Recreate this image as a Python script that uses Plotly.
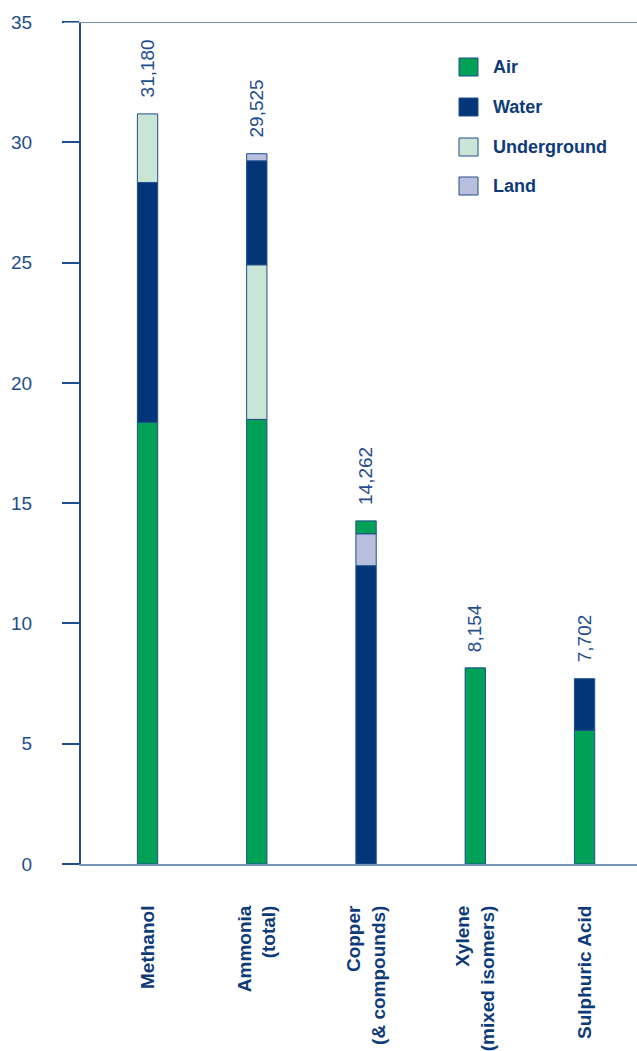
import plotly.graph_objects as go

# ---------------- data (thousand tonnes) ----------------
categories = ["Methanol", "Ammonia<br>(total)", "Copper<br>(& compounds)",
              "Xylene<br>(mixed isomers)", "Sulphuric Acid"]
air = [18.36, 18.48, 0.542, 8.154, 5.56]
water = [9.97, 4.33, 12.40, 0.0, 2.142]
underground = [2.85, 6.42, 0.0, 0.0, 0.0]
land = [0.0, 0.295, 1.32, 0.0, 0.0]
totals = [31180, 29525, 14262, 8154, 7702]
# stacking order of the segments inside each bar (bottom -> top)
stack_order = [
    ["Air", "Water", "Underground", "Land"],
    ["Air", "Underground", "Water", "Land"],
    ["Water", "Land", "Air", "Underground"],
    ["Air", "Water", "Underground", "Land"],
    ["Air", "Water", "Underground", "Land"],
]
y_ticks = [0, 5, 10, 15, 20, 25, 30, 35]

series = {"Air": air, "Water": water, "Underground": underground, "Land": land}
colors = {"Air": "#00a056", "Water": "#033679",
          "Underground": "#c9e5d6", "Land": "#b8bfdc"}

# compute bases from stacking order
bases = {k: [0.0] * len(categories) for k in series}
for i, order in enumerate(stack_order):
    acc = 0.0
    for name in order:
        bases[name][i] = acc
        acc += series[name][i]

DARK = "#0d3b7a"
MID = "#1f4e8c"
LIGHTLINE = "#7893b8"
FONT = "Liberation Sans, Arial, sans-serif"

fig = go.Figure()
for name in ["Air", "Water", "Underground", "Land"]:
    vals = [v if v > 0 else None for v in series[name]]
    fig.add_trace(go.Bar(
        x=list(range(len(categories))), y=vals, base=bases[name],
        name=name, width=0.186,
        marker=dict(color=colors[name], line=dict(color=MID, width=1)),
        showlegend=False,
    ))

# total labels
for i, t in enumerate(totals):
    fig.add_annotation(x=i, y=t / 1000.0, text=f"{t:,}", showarrow=False,
                       textangle=-90, yanchor="bottom", xanchor="center",
                       yshift=14, font=dict(family=FONT, size=19, color=MID))

W, H = 637, 1051
L, R, T, B = 81, 0, 22, 187
PW, PH = W - L - R, H - T - B


def px(xp):
    return (xp - L) / PW


def py(yp):
    return (H - B - yp) / PH


# manual legend
legend_items = ["Air", "Water", "Underground", "Land"]
legend_y = [67, 107, 147, 186]
for name, yc in zip(legend_items, legend_y):
    fig.add_shape(type="rect", xref="paper", yref="paper",
                  x0=px(459), x1=px(478), y0=py(yc + 9), y1=py(yc - 9),
                  fillcolor=colors[name], line=dict(color=MID, width=1))
    fig.add_annotation(xref="paper", yref="paper", x=px(491), y=py(yc),
                       text=f"<b>{name}</b>", showarrow=False,
                       xanchor="left", yanchor="middle",
                       font=dict(family=FONT, size=18, color=DARK))

# top frame line at 35
fig.add_shape(type="line", xref="paper", yref="y", x0=px(64), x1=1,
              y0=35, y1=35, line=dict(color=LIGHTLINE, width=2))

fig.update_layout(
    width=W, height=H, margin=dict(l=L, r=R, t=T, b=B),
    paper_bgcolor="white", plot_bgcolor="white", barmode="overlay",
    font=dict(family=FONT),
    xaxis=dict(
        range=[-0.609, 4.48], tickmode="array",
        tickvals=list(range(len(categories))),
        ticktext=[f"<b>{c}</b>" for c in categories],
        tickangle=-90, showgrid=False, zeroline=False,
        showline=True, linecolor=LIGHTLINE, linewidth=2, ticks="",
        ticklabelstandoff=32,
        tickfont=dict(family=FONT, size=19, color=DARK),
    ),
    yaxis=dict(
        range=[0, 35], tickvals=y_ticks, showgrid=False, zeroline=False,
        showline=True, linecolor=MID, linewidth=2,
        ticks="outside", ticklen=17, tickwidth=2, tickcolor=MID,
        ticklabelstandoff=26,
        tickfont=dict(family=FONT, size=19, color=MID),
    ),
)

fig.write_html("out.html")
